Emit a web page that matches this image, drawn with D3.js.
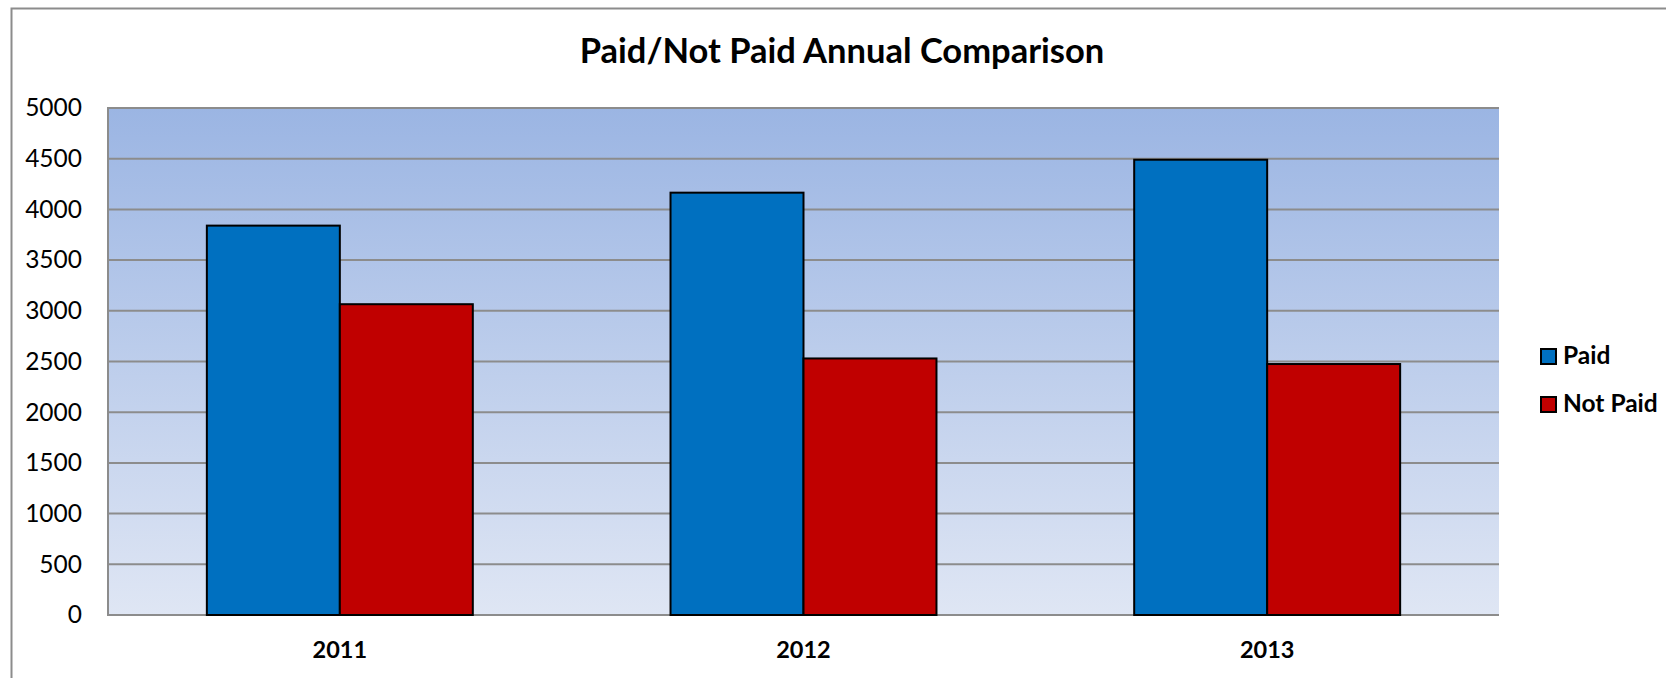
<!DOCTYPE html>
<html>
<head>
<meta charset="utf-8">
<script src="https://cdn.jsdelivr.net/npm/d3@7"></script>
<style>
  html, body { margin: 0; padding: 0; background: #fff; }
  svg { display: block; font-family: Lato, "Open Sans", sans-serif; }
</style>
</head>
<body>
<svg id="chart" width="1666" height="678"></svg>
<script>
const categories = ["2011", "2012", "2013"];
const seriesNames = ["Paid", "Not Paid"];
const paidValues = [3840, 4165, 4490];
const notPaidValues = [3065, 2530, 2475];
const yTicks = [0, 500, 1000, 1500, 2000, 2500, 3000, 3500, 4000, 4500, 5000];
const title = "Paid/Not Paid Annual Comparison";
const colors = ["#0070c0", "#c00000"];

const svg = d3.select("#chart");
const W = 1666, H = 678;
const plot = { left: 108, right: 1499, top: 108, bottom: 615 };

// outer chart border (extends past right/bottom edge)
svg.append("rect")
  .attr("x", 11.5).attr("y", 8.5)
  .attr("width", W + 20).attr("height", H + 20)
  .attr("fill", "#fff").attr("stroke", "#8c8c8c").attr("stroke-width", 2);

// gradient for plot area
const defs = svg.append("defs");
const grad = defs.append("linearGradient").attr("id", "bg")
  .attr("x1", 0).attr("y1", 0).attr("x2", 0).attr("y2", 1);
grad.append("stop").attr("offset", "0%").attr("stop-color", "#9bb5e3");
grad.append("stop").attr("offset", "100%").attr("stop-color", "#dfe6f4");

const y = d3.scaleLinear().domain([0, 5000]).range([plot.bottom, plot.top]);
const x0 = d3.scaleBand().domain(categories).range([plot.left, plot.right])
  .paddingInner(0.4264).paddingOuter(0.2132);
const x1 = d3.scaleBand().domain(seriesNames).range([0, x0.bandwidth()]).padding(0);

svg.append("rect")
  .attr("x", plot.left).attr("y", plot.top)
  .attr("width", plot.right - plot.left).attr("height", plot.bottom - plot.top)
  .attr("fill", "url(#bg)");

// gridlines
svg.append("g").selectAll("line").data(yTicks).join("line")
  .attr("x1", plot.left).attr("x2", plot.right)
  .attr("y1", d => y(d)).attr("y2", d => y(d))
  .attr("stroke", "#8c8c8c").attr("stroke-width", 2);

// left axis line
svg.append("line")
  .attr("x1", plot.left).attr("x2", plot.left)
  .attr("y1", plot.top - 1).attr("y2", plot.bottom + 1)
  .attr("stroke", "#8c8c8c").attr("stroke-width", 2);

// y tick labels
const yAxis = d3.axisLeft(y).tickValues(yTicks).tickSize(0).tickPadding(26).tickFormat(d3.format("d"));
const gy = svg.append("g").attr("transform", `translate(${plot.left},0)`).call(yAxis);
gy.select(".domain").remove();
gy.selectAll("text").attr("font-size", 24.5).attr("fill", "#000")
  .attr("font-family", "Lato, 'Open Sans', sans-serif");

// bars
const data = categories.map((c, i) => ({ cat: c, vals: [
  { s: "Paid", v: paidValues[i] }, { s: "Not Paid", v: notPaidValues[i] } ] }));
const groups = svg.append("g").selectAll("g").data(data).join("g")
  .attr("transform", d => `translate(${x0(d.cat)},0)`);
groups.selectAll("rect").data(d => d.vals).join("rect")
  .attr("x", d => x1(d.s))
  .attr("y", d => y(d.v))
  .attr("width", x1.bandwidth())
  .attr("height", d => y(0) - y(d.v))
  .attr("fill", (d, i) => colors[i])
  .attr("stroke", "#000").attr("stroke-width", 2);

// x labels
const xAxis = d3.axisBottom(x0).tickSize(0).tickPadding(26);
const gx = svg.append("g").attr("transform", `translate(0,${plot.bottom})`).call(xAxis);
gx.select(".domain").remove();
gx.selectAll("text").attr("font-size", 23.5).attr("font-weight", "bold").attr("fill", "#000")
  .attr("font-family", "Lato, 'Open Sans', sans-serif");

// title
svg.append("text")
  .attr("x", 842).attr("y", 63)
  .attr("text-anchor", "middle")
  .attr("font-size", 34.5).attr("font-weight", "bold").attr("fill", "#000")
  .text(title);

// legend
const legend = svg.append("g");
seriesNames.forEach((s, i) => {
  const ly = 349 + i * 48;
  legend.append("rect").attr("x", 1541).attr("y", ly).attr("width", 15).attr("height", 15)
    .attr("fill", colors[i]).attr("stroke", "#000").attr("stroke-width", 2);
  legend.append("text").attr("x", 1563).attr("y", ly + 15)
    .attr("font-size", 24.5).attr("font-weight", "bold").attr("fill", "#000").text(s);
});
</script>
</body>
</html>
